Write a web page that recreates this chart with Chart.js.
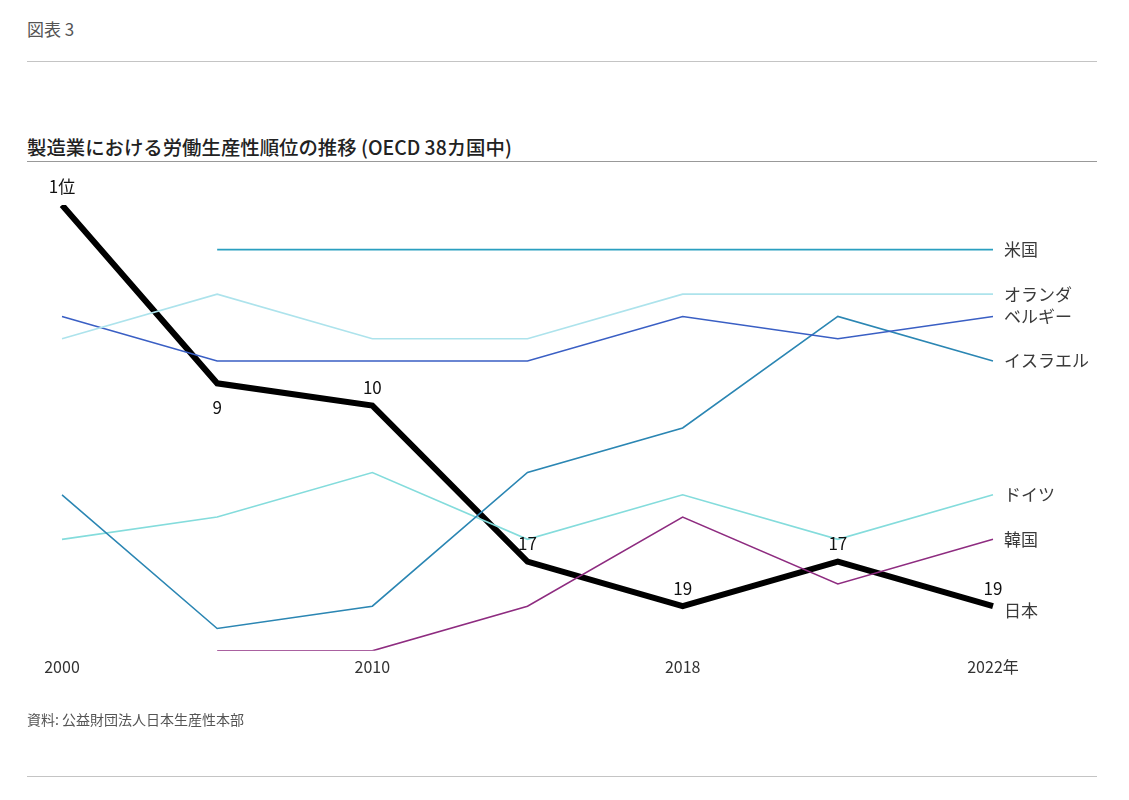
<!DOCTYPE html>
<html lang="ja">
<head>
<meta charset="UTF-8">
<title>図表 3</title>
<script src="https://cdn.jsdelivr.net/npm/chart.js"></script>
<style>
    body { margin: 0; width: 1129px; height: 800px; background: #fff; position: relative;
           font-family: "Noto Sans CJK JP", "Noto Sans", sans-serif; color: #333; }
    .rule { position: absolute; left: 27px; width: 1070px; height: 0; border-top: 1.5px solid #c4c4c4; }
    #fig { position: absolute; left: 27px; top: 16px; font-size: 17px; color: #555; }
    #title { position: absolute; left: 27px; top: 132px; font-size: 19.4px; font-weight: 500; color: #222; }
    #source { position: absolute; left: 27px; top: 709px; font-size: 14px; color: #555; }
    #wrap { position: absolute; left: 0; top: 170px; width: 1129px; height: 540px; }
</style>
</head>
<body>
    <div id="fig">図表 3</div>
    <div class="rule" style="top:61px"></div>
    <div id="title">製造業における労働生産性順位の推移 (OECD 38カ国中)</div>
    <div class="rule" style="top:161px; border-top-color:#999"></div>
    <div id="wrap"><canvas id="myChart"></canvas></div>
    <div id="source">資料: 公益財団法人日本生産性本部</div>
    <div class="rule" style="top:776px"></div>

<script>
    // 年 (表示するのは 2000, 2010, 2018, 2022年 のみ)
    const labels = ['2000', '', '2010', '', '2018', '', '2022年'];

    // 順位
    const usa = [null, 3, 3, 3, 3, 3, 3];
    const netherlands = [7, 5, 7, 7, 5, 5, 5];
    const belgium = [6, 8, 8, 8, 6, 7, 6];
    const israel = [14, 20, 19, 13, 11, 6, 8];
    const germany = [16, 15, 13, 16, 14, 16, 14];
    const korea = [null, 21, 21, 19, 15, 18, 16];
    const japan = [1, 9, 10, 17, 19, 17, 19];

    const countries = ['米国', 'オランダ', 'ベルギー', 'イスラエル', 'ドイツ', '韓国', '日本'];

    const data = {
        labels: labels,
        datasets: [
            { label: countries[0], data: usa, borderColor: '#2a9fc0', borderWidth: 1.6 },
            { label: countries[1], data: netherlands, borderColor: '#ade3ec', borderWidth: 1.6 },
            { label: countries[2], data: belgium, borderColor: '#3a5fc4', borderWidth: 1.6 },
            { label: countries[3], data: israel, borderColor: '#2b86b3', borderWidth: 1.6 },
            { label: countries[4], data: germany, borderColor: '#84dcdc', borderWidth: 1.6 },
            { label: countries[5], data: korea, borderColor: '#8e2c80', borderWidth: 1.6 },
            { label: countries[6], data: japan, borderColor: '#000', borderWidth: 6 }
        ]
    };

    // 各線の右端に国名、日本の線に順位を書く
    const labelPlugin = {
        id: 'lineLabels',
        afterDatasetsDraw(chart) {
            const ctx = chart.ctx;
            ctx.save();
            ctx.font = '17px "Noto Sans CJK JP"';
            ctx.fillStyle = '#3a3a3a';
            ctx.textBaseline = 'middle';
            ctx.textAlign = 'left';
            chart.data.datasets.forEach((ds, i) => {
                const pts = chart.getDatasetMeta(i).data;
                const last = pts[pts.length - 1];
                const dy = ds.label === '日本' ? 4 : 0;
                ctx.fillText(ds.label, last.x + 11, last.y + dy);
            });

            const jp = chart.getDatasetMeta(6).data;
            ctx.textAlign = 'center';
            ctx.fillStyle = '#111';
            jp.forEach((p, i) => {
                const txt = i === 0 ? japan[i] + '位' : String(japan[i]);
                const below = i === 1;
                ctx.fillText(txt, p.x, below ? p.y + 24 : p.y - 18);
            });
            ctx.restore();
        }
    };

    const config = {
        type: 'line',
        data: data,
        options: {
            responsive: true,
            maintainAspectRatio: false,
            animation: false,
            events: [],
            layout: { padding: { left: 62, right: 136, top: 35, bottom: 26 } },
            elements: {
                point: { radius: 0 },
                line: { tension: 0, borderCapStyle: 'butt', borderJoinStyle: 'miter', fill: false }
            },
            plugins: { legend: { display: false }, tooltip: { enabled: false } },
            scales: {
                x: {
                    offset: false,
                    grid: { display: false, drawTicks: false },
                    border: { display: false },
                    ticks: {
                        autoSkip: false, maxRotation: 0, padding: 7,
                        color: '#333', font: { size: 16, family: '"Noto Sans CJK JP"' }
                    }
                },
                y: { display: false, reverse: true, min: 1, max: 21 }
            }
        },
        plugins: [labelPlugin]
    };

    const myChart = new Chart(document.getElementById('myChart'), config);
</script>
</body>
</html>
